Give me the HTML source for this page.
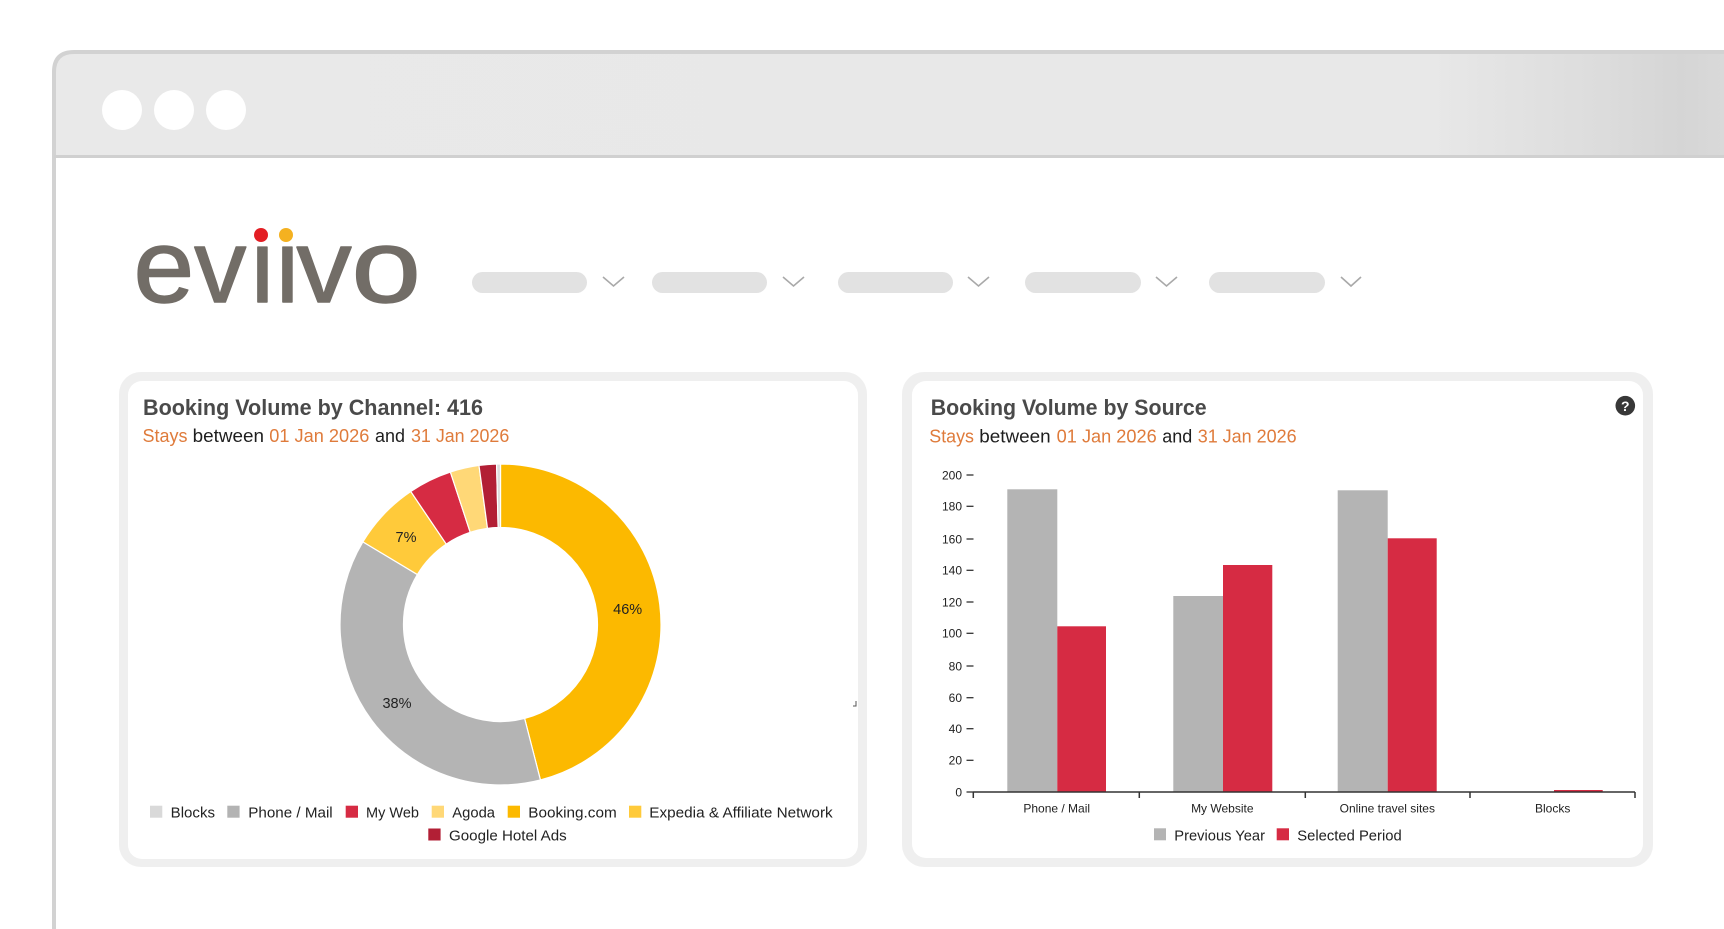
<!DOCTYPE html>
<html>
<head>
<meta charset="utf-8">
<style>
html,body{margin:0;padding:0;background:#fff;}
svg{display:block;}
text{font-family:"Liberation Sans",Arial,sans-serif;}
</style>
</head>
<body>
<svg width="1724" height="929" viewBox="0 0 1724 929" xmlns="http://www.w3.org/2000/svg">
  <defs>
    <linearGradient id="barg" x1="0" y1="0" x2="1724" y2="0" gradientUnits="userSpaceOnUse">
      <stop offset="0" stop-color="#e9e9e9"/>
      <stop offset="0.83" stop-color="#e8e8e8"/>
      <stop offset="0.87" stop-color="#e3e3e3"/>
      <stop offset="0.93" stop-color="#dcdcdc"/>
      <stop offset="0.975" stop-color="#d5d5d5"/>
      <stop offset="1" stop-color="#d9d9d9"/>
    </linearGradient>
  </defs>

  <!-- browser window -->
  <path d="M54,157 L54,72 Q54,52 74,52 L1724,52 L1724,157 Z" fill="url(#barg)"/>
  <path d="M54,929 L54,72 Q54,52 74,52 L1724,52" fill="none" stroke="#d2d2d2" stroke-width="4"/>
  <line x1="54" y1="156.5" x2="1724" y2="156.5" stroke="#d0d0d0" stroke-width="3"/>
  <circle cx="122" cy="110" r="20" fill="#ffffff"/>
  <circle cx="174" cy="110" r="20" fill="#ffffff"/>
  <circle cx="226" cy="110" r="20" fill="#ffffff"/>

  <!-- logo -->
  <g fill="#726d67" stroke="#726d67" stroke-width="1.4" stroke-linejoin="round" font-size="104">
    <text x="0" y="0" transform="translate(133.5,302) scale(1.05,1)">e</text>
    <text x="194.3" y="302">v</text>
    <text x="248" y="302">ı</text>
    <text x="273" y="302">ı</text>
    <text x="0" y="0" transform="translate(296.5,302) scale(1.06,1)">v</text>
    <text x="0" y="0" transform="translate(351.5,302) scale(1.2,1)">o</text>
  </g>
  <circle cx="261" cy="235" r="7" fill="#e31e24"/>
  <circle cx="286" cy="235" r="7" fill="#f4b120"/>

  <!-- nav placeholders -->
  <g fill="#e2e2e2">
    <rect x="472" y="272" width="115" height="21" rx="10.5"/>
    <rect x="652" y="272" width="115" height="21" rx="10.5"/>
    <rect x="838" y="272" width="115" height="21" rx="10.5"/>
    <rect x="1025" y="272" width="116" height="21" rx="10.5"/>
    <rect x="1209" y="272" width="116" height="21" rx="10.5"/>
  </g>
  <g fill="none" stroke="#a9a9a9" stroke-width="1.6">
    <polyline points="603,277 613.5,286 624,277"/>
    <polyline points="783,277 793.5,286 804,277"/>
    <polyline points="968,277 978.5,286 989,277"/>
    <polyline points="1156,277 1166.5,286 1177,277"/>
    <polyline points="1341,277 1351,286 1361,277"/>
  </g>

  <!-- LEFT CARD -->
  <rect x="119" y="372" width="748" height="495" rx="22" fill="#efefef"/>
  <rect x="128" y="381" width="730" height="478" rx="14" fill="#ffffff"/>
  <text x="143" y="415" font-size="22" font-weight="bold" fill="#4a4a4a" textLength="340" lengthAdjust="spacingAndGlyphs">Booking Volume by Channel: 416</text>
  <g font-size="18">
    <text x="142.5" y="442" fill="#df7b3b" textLength="45" lengthAdjust="spacingAndGlyphs">Stays</text>
    <text x="192.7" y="442" fill="#1e1e1e" textLength="71.3" lengthAdjust="spacingAndGlyphs">between</text>
    <text x="269.3" y="442" fill="#df7b3b" textLength="100" lengthAdjust="spacingAndGlyphs">01 Jan 2026</text>
    <text x="375" y="442" fill="#1e1e1e" textLength="30" lengthAdjust="spacingAndGlyphs">and</text>
    <text x="411" y="442" fill="#df7b3b" textLength="98.3" lengthAdjust="spacingAndGlyphs">31 Jan 2026</text>
  </g>

  <!-- donut -->
  <g stroke="#ffffff" stroke-width="1.2">
    <path d="M500.5,464 A160.5,160.5 0 0 1 540.42,779.96 L524.62,718.45 A97,97 0 0 0 500.5,527.5 Z" fill="#fcb900"/>
    <path d="M540.42,779.96 A160.5,160.5 0 0 1 362.92,541.84 L417.35,574.54 A97,97 0 0 0 524.62,718.45 Z" fill="#b4b4b4"/>
    <path d="M362.92,541.84 A160.5,160.5 0 0 1 410.75,491.45 L446.26,544.09 A97,97 0 0 0 417.35,574.54 Z" fill="#ffca3a"/>
    <path d="M410.75,491.45 A160.5,160.5 0 0 1 450.38,472.02 L470.21,532.35 A97,97 0 0 0 446.26,544.09 Z" fill="#d62b43"/>
    <path d="M450.38,472.02 A160.5,160.5 0 0 1 478.99,465.44 L487.5,528.37 A97,97 0 0 0 470.21,532.35 Z" fill="#ffd877"/>
    <path d="M478.99,465.44 A160.5,160.5 0 0 1 496.58,464.05 L498.13,527.53 A97,97 0 0 0 487.5,528.37 Z" fill="#b21f35"/>
    <path d="M496.58,464.05 A160.5,160.5 0 0 1 500.5,464 L500.5,527.5 A97,97 0 0 0 498.13,527.53 Z" fill="#dcdcdc"/>
  </g>
  <g font-size="14.5" fill="#222" text-anchor="middle">
    <text x="627.7" y="614">46%</text>
    <text x="406" y="542">7%</text>
    <text x="397" y="708">38%</text>
  </g>
  <path d="M853,706 L856,706 L856,701" fill="none" stroke="#555" stroke-width="1"/>

  <!-- left legend -->
  <g font-size="15" fill="#222">
    <rect x="150" y="805.7" width="12.3" height="12" fill="#d9d9d9"/>
    <text x="170.7" y="817.5" textLength="44.3" lengthAdjust="spacingAndGlyphs">Blocks</text>
    <rect x="227.3" y="805.7" width="12.3" height="12" fill="#b3b3b3"/>
    <text x="248.3" y="817.5" textLength="84.4" lengthAdjust="spacingAndGlyphs">Phone / Mail</text>
    <rect x="345.7" y="805.7" width="12.3" height="12" fill="#d62b43"/>
    <text x="366" y="817.5" textLength="53" lengthAdjust="spacingAndGlyphs">My Web</text>
    <rect x="431.7" y="805.7" width="12.3" height="12" fill="#ffd877"/>
    <text x="452.3" y="817.5" textLength="42.7" lengthAdjust="spacingAndGlyphs">Agoda</text>
    <rect x="507.7" y="805.7" width="12.3" height="12" fill="#fcb900"/>
    <text x="528.3" y="817.5" textLength="88.4" lengthAdjust="spacingAndGlyphs">Booking.com</text>
    <rect x="629" y="805.7" width="12.3" height="12" fill="#ffca3a"/>
    <text x="649.3" y="817.5" textLength="183.4" lengthAdjust="spacingAndGlyphs">Expedia &amp; Affiliate Network</text>
    <rect x="428.3" y="828.5" width="12.3" height="12" fill="#b21f35"/>
    <text x="449" y="840.5" textLength="117.7" lengthAdjust="spacingAndGlyphs">Google Hotel Ads</text>
  </g>

  <!-- RIGHT CARD -->
  <rect x="902" y="372" width="751" height="495" rx="22" fill="#efefef"/>
  <rect x="912" y="381" width="731" height="477" rx="14" fill="#ffffff"/>
  <text x="930.7" y="415" font-size="22" font-weight="bold" fill="#4a4a4a" textLength="276" lengthAdjust="spacingAndGlyphs">Booking Volume by Source</text>
  <g font-size="18">
    <text x="929.3" y="442.3" fill="#df7b3b" textLength="44.7" lengthAdjust="spacingAndGlyphs">Stays</text>
    <text x="979.3" y="442.3" fill="#1e1e1e" textLength="71.4" lengthAdjust="spacingAndGlyphs">between</text>
    <text x="1056.7" y="442.3" fill="#df7b3b" textLength="100" lengthAdjust="spacingAndGlyphs">01 Jan 2026</text>
    <text x="1162.3" y="442.3" fill="#1e1e1e" textLength="30" lengthAdjust="spacingAndGlyphs">and</text>
    <text x="1197.7" y="442.3" fill="#df7b3b" textLength="99" lengthAdjust="spacingAndGlyphs">31 Jan 2026</text>
  </g>
  <circle cx="1625.3" cy="405.7" r="9.8" fill="#383838"/>
  <text x="1625.3" y="411" font-size="14" font-weight="bold" fill="#ffffff" text-anchor="middle">?</text>

  <!-- y axis labels -->
  <g font-size="12" fill="#222" text-anchor="end">
    <text x="962" y="479.3">200</text>
    <text x="962" y="510.6">180</text>
    <text x="962" y="543.3">160</text>
    <text x="962" y="574.6">140</text>
    <text x="962" y="606.3">120</text>
    <text x="962" y="637.6">100</text>
    <text x="962" y="670.3">80</text>
    <text x="962" y="702">60</text>
    <text x="962" y="733">40</text>
    <text x="962" y="764.6">20</text>
    <text x="962" y="796.3">0</text>
  </g>
  <g stroke="#333" stroke-width="1.3">
    <line x1="966.5" y1="475" x2="973.5" y2="475"/>
    <line x1="966.5" y1="506.3" x2="973.5" y2="506.3"/>
    <line x1="966.5" y1="539" x2="973.5" y2="539"/>
    <line x1="966.5" y1="570.3" x2="973.5" y2="570.3"/>
    <line x1="966.5" y1="602" x2="973.5" y2="602"/>
    <line x1="966.5" y1="633.3" x2="973.5" y2="633.3"/>
    <line x1="966.5" y1="666" x2="973.5" y2="666"/>
    <line x1="966.5" y1="697.7" x2="973.5" y2="697.7"/>
    <line x1="966.5" y1="728.7" x2="973.5" y2="728.7"/>
    <line x1="966.5" y1="760.3" x2="973.5" y2="760.3"/>
    <line x1="966.5" y1="792" x2="973.5" y2="792"/>
  </g>

  <!-- bars -->
  <g fill="#b4b4b4">
    <rect x="1007.3" y="489.3" width="50" height="302.7"/>
    <rect x="1173.3" y="596" width="49.7" height="196"/>
    <rect x="1337.7" y="490.3" width="50" height="301.7"/>
  </g>
  <g fill="#d62b43">
    <rect x="1057.3" y="626.3" width="48.7" height="165.7"/>
    <rect x="1223" y="565" width="49.3" height="227"/>
    <rect x="1387.7" y="538.3" width="49" height="253.7"/>
    <rect x="1554" y="790" width="48.7" height="2"/>
  </g>

  <!-- x axis -->
  <g stroke="#333" stroke-width="1.5" fill="none">
    <line x1="973.3" y1="792" x2="1635" y2="792"/>
    <line x1="973.3" y1="792" x2="973.3" y2="798"/>
    <line x1="1139.3" y1="792" x2="1139.3" y2="798"/>
    <line x1="1305.3" y1="792" x2="1305.3" y2="798"/>
    <line x1="1470" y1="792" x2="1470" y2="798"/>
    <line x1="1635" y1="792" x2="1635" y2="798"/>
  </g>
  <g font-size="12" fill="#222" text-anchor="middle">
    <text x="1056.7" y="812.5">Phone / Mail</text>
    <text x="1222.3" y="812.5">My Website</text>
    <text x="1387.3" y="812.5">Online travel sites</text>
    <text x="1552.7" y="812.5">Blocks</text>
  </g>

  <!-- right legend -->
  <g font-size="15" fill="#222">
    <rect x="1154" y="828.3" width="12" height="12" fill="#b4b4b4"/>
    <text x="1174.3" y="840.5" textLength="90.7" lengthAdjust="spacingAndGlyphs">Previous Year</text>
    <rect x="1276.7" y="828.3" width="12.3" height="12" fill="#d62b43"/>
    <text x="1297.3" y="840.5" textLength="104.4" lengthAdjust="spacingAndGlyphs">Selected Period</text>
  </g>
</svg>
</body>
</html>
